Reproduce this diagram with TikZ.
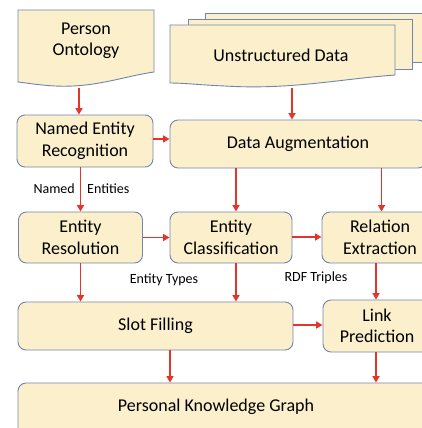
\documentclass[tikz,border=0pt]{standalone}
\usepackage{fontspec}
\setmainfont{Carlito}
\usetikzlibrary{arrows.meta}
\definecolor{boxfill}{HTML}{FCF0CC}
\definecolor{boxline}{HTML}{6F86AE}
\definecolor{arr}{HTML}{E5352A}
\begin{document}
\begin{tikzpicture}[x=1pt,y=-1pt,
  box/.style={draw=boxline,fill=boxfill,line width=0.9pt,rounded corners=8pt,inner sep=0pt,align=center,font=\fontsize{18}{21.5}\selectfont},
  doc/.style={draw=boxline,fill=boxfill,line width=0.9pt},
  txt/.style={align=center,font=\fontsize{18}{21.5}\selectfont,inner sep=0pt},
  lab/.style={font=\fontsize{14}{16}\selectfont,inner sep=0pt},
  flow/.style={draw=arr,line width=1.6pt,-{Triangle[length=6.5pt,width=7pt]}}]
\clip (0,0) rectangle (422,428);
\fill[white] (0,0) rectangle (422,428);
% stacked documents
\draw[doc] (205,13) rectangle (440,62);
\draw[doc] (188,19) rectangle (412,69);
\draw[doc] (170,25) -- (395,25) -- (395,75)
  .. controls (340,79) and (290,90) .. (225,86)
  .. controls (200,85) and (185,83) .. (170,83) -- cycle;
\node[txt] (ud) at (281,55) {Unstructured Data};
% person ontology
\draw[doc] (18,10) -- (154,10) -- (154,72)
  .. controls (125,76) and (95,88) .. (55,86)
  .. controls (38,85) and (27,83) .. (18,82) -- cycle;
\node[txt] (po) at (86,41) {Person\\Ontology};
\coordinate (poB) at (79,88);
\coordinate (udB) at (292,88);
% boxes
\node[box,minimum width=136pt,minimum height=52pt] (ner) at (85,141) {Named Entity\\Recognition};
\node[box,minimum width=256pt,minimum height=48pt] (da) at (298,144) {Data Augmentation};
\node[box,minimum width=124pt,minimum height=51pt] (er) at (80.5,237.5) {Entity\\Resolution};
\node[box,minimum width=122pt,minimum height=51pt] (ec) at (231,237.5) {Entity\\Classification};
\node[box,minimum width=116pt,minimum height=51pt] (re) at (380,237.5) {Relation\\Extraction};
\node[box,minimum width=275pt,minimum height=48pt] (sf) at (155.5,326) {Slot Filling};
\node[box,minimum width=108pt,minimum height=52pt] (lp) at (377,326) {Link\\Prediction};
\node[box,minimum width=430pt,minimum height=60pt] (pkg) at (233,413) {};
\node[txt] (pkgt) at (216,407) {Personal Knowledge Graph};
% labels
\node[lab,anchor=east] (ne1) at (75,189) {Named};
\node[lab,anchor=west] (ne2) at (87,189) {Entities};
\node[lab] (et) at (164,280) {Entity Types};
\node[lab] (rdf) at (316,278) {RDF Triples};
% arrows
\draw[flow] (poB) -- (poB |- ner.north);
\draw[flow] (udB) -- (udB |- da.north);
\draw[flow] ([yshift=2pt]ner.east) -- ([yshift=2pt]ner.east -| da.west);
\draw[flow] (ner.south -| er.north) -- (er.north);
\draw[flow] ([xshift=5pt]da.south -| ec.north) -- ([xshift=5pt]ec.north);
\draw[flow] ([xshift=1.5pt]da.south -| re.north) -- ([xshift=1.5pt]re.north);
\draw[flow] (er.east) -- (ec.west);
\draw[flow] ([yshift=0.5pt]ec.east) -- ([yshift=0.5pt]re.west);
\draw[flow] (er.south) -- (er.south |- sf.north);
\draw[flow] ([xshift=5pt]ec.south) -- ([xshift=5pt]ec.south |- sf.north);
\draw[flow] ([xshift=-1pt]lp.north |- re.south) -- ([xshift=-1pt]lp.north);
\draw[flow] ([yshift=1pt]sf.east) -- ([yshift=1pt]sf.east -| lp.west);
\draw[flow] ([xshift=14.5pt]sf.south) -- ([xshift=14.5pt]sf.south |- pkg.north);
\draw[flow] ([xshift=-1pt]lp.south) -- ([xshift=-1pt]lp.south |- pkg.north);
\end{tikzpicture}
\end{document}
